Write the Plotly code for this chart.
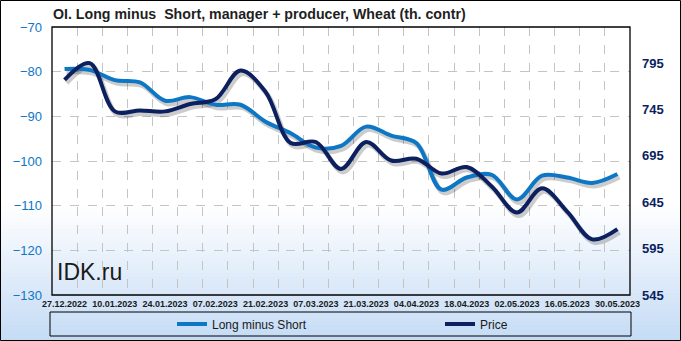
import plotly.graph_objects as go

# ---------------- data ----------------
dates = ["27.12.2022", "03.01.2023", "10.01.2023", "17.01.2023", "24.01.2023",
         "31.01.2023", "07.02.2023", "14.02.2023", "21.02.2023", "28.02.2023",
         "07.03.2023", "14.03.2023", "21.03.2023", "28.03.2023", "04.04.2023",
         "11.04.2023", "18.04.2023", "25.04.2023", "02.05.2023", "09.05.2023",
         "16.05.2023", "23.05.2023", "30.05.2023"]
long_minus_short = [-79.4, -79.6, -81.9, -82.4, -86.5, -85.7, -87.4, -87.4, -91.2,
                    -93.8, -97.0, -96.6, -92.3, -94.3, -96.0, -106.4, -103.7,
                    -103.1, -108.6, -103.3, -103.7, -104.9, -102.9]
price = [777, 795, 743, 744, 743, 751, 756, 787, 764, 709, 710, 681, 710, 690,
         692, 676, 683, 662, 634, 660, 635, 605, 616]
left_range = [-130, -70]
right_range = [545, 834]
title_text = "OI. Long minus  Short, manager + producer, Wheat (th. contr)"

# ---------------- geometry / style ----------------
W, H = 681, 341
ML, MR, MT, MB = 52, 51, 27, 46
PW, PH = W - ML - MR, H - MT - MB
LIGHT = "#0d77c6"
DARK = "#0c1f5e"
SHADOW = "rgba(0,0,0,0.20)"
FONT = "Liberation Sans"

def px_x(p):
    return (p - ML) / PW

def px_y(p):
    return (H - MB - p) / PH

idx = list(range(len(dates)))
xr = [-0.5, len(dates) - 0.5]
ux = PW / (xr[1] - xr[0])
sdx, sdy = 2.0, 3.0
shadow_xr = [xr[0] - sdx / ux, xr[1] - sdx / ux]
ul = PH / (left_range[1] - left_range[0])
ur = PH / (right_range[1] - right_range[0])
shadow_lr = [left_range[0] + sdy / ul, left_range[1] + sdy / ul]
shadow_rr = [right_range[0] + sdy / ur, right_range[1] + sdy / ur]

fig = go.Figure()
# shadows (hidden shifted axes)
fig.add_trace(go.Scatter(x=idx, y=long_minus_short, xaxis="x", yaxis="y",
                         mode="lines", line=dict(color=SHADOW, width=5, shape="spline", smoothing=1),
                         showlegend=False, hoverinfo="skip"))
fig.add_trace(go.Scatter(x=idx, y=price, xaxis="x", yaxis="y2",
                         mode="lines", line=dict(color=SHADOW, width=5, shape="spline", smoothing=1),
                         showlegend=False, hoverinfo="skip"))
# real lines
fig.add_trace(go.Scatter(x=idx, y=long_minus_short, xaxis="x2", yaxis="y3",
                         name="Long minus Short", mode="lines",
                         line=dict(color=LIGHT, width=4, shape="spline", smoothing=1)))
fig.add_trace(go.Scatter(x=idx, y=price, xaxis="x2", yaxis="y4",
                         name="Price", mode="lines",
                         line=dict(color=DARK, width=4, shape="spline", smoothing=1)))

# gradient background bands
shapes = []
g0, g1 = 205, H
steps = 34
top_c = (255, 255, 255)
bot_c = (196, 219, 245)
for k in range(steps):
    a = g0 + (g1 - g0) * k / steps
    b = g0 + (g1 - g0) * (k + 1) / steps
    t = (k + 0.5) / steps
    c = tuple(int(round(top_c[j] + (bot_c[j] - top_c[j]) * t)) for j in range(3))
    shapes.append(dict(type="rect", xref="paper", yref="paper", layer="below",
                       x0=px_x(0), x1=px_x(W), y0=px_y(b + 0.5), y1=px_y(a),
                       line=dict(width=0), fillcolor="rgb(%d,%d,%d)" % c))
# plot border
shapes.append(dict(type="rect", xref="paper", yref="paper", x0=0, x1=1, y0=0, y1=1,
                   line=dict(color="black", width=1.3), layer="above"))
# legend box
shapes.append(dict(type="rect", xref="paper", yref="paper",
                   x0=px_x(50), x1=px_x(631), y0=px_y(336), y1=px_y(312),
                   line=dict(color="black", width=1), layer="above"))
# outer border
shapes.append(dict(type="rect", xref="paper", yref="paper",
                   x0=px_x(0.5), x1=px_x(W - 0.5), y0=px_y(H - 0.5), y1=px_y(0.5),
                   line=dict(color="black", width=1), layer="above"))

hidden = dict(visible=False, showgrid=False, zeroline=False, fixedrange=True)

fig.update_layout(
    width=W, height=H,
    margin=dict(l=ML, r=MR, t=MT, b=MB, autoexpand=False),
    paper_bgcolor="white", plot_bgcolor="rgba(0,0,0,0)",
    font=dict(family=FONT, color="#1a1a1a"),
    title=dict(text="<b>" + title_text + "</b>", x=53 / W, xanchor="left", xref="container",
               y=1 - 14 / H, yanchor="middle", yref="container",
               font=dict(family=FONT, size=14.2, color="#1f1f1f")),
    xaxis=dict(range=shadow_xr, **hidden),
    yaxis=dict(range=shadow_lr, **hidden),
    yaxis2=dict(range=shadow_rr, overlaying="y", **hidden),
    xaxis2=dict(range=xr, overlaying="x", anchor="y3", side="bottom",
                tickmode="array", tickvals=idx[::2], ticktext=dates[::2],
                showgrid=False, zeroline=False, ticks="", showline=False,
                tickfont=dict(family=FONT, size=9, color="#1a1a1a", weight="bold"),
                ticklabelstandoff=2,
                minor=dict(tick0=0.5, dtick=1, showgrid=True, gridcolor="#c4c4c4",
                           griddash="dash", gridwidth=1, ticks="")),
    yaxis3=dict(range=left_range, overlaying="y", anchor="x2", side="left",
                tickmode="linear", tick0=-130, dtick=10,
                showgrid=True, gridcolor="#c4c4c4", griddash="dash", gridwidth=1,
                zeroline=False, ticks="", showline=False, ticklabelstandoff=9,
                tickfont=dict(family=FONT, size=13, color=LIGHT)),
    yaxis4=dict(range=right_range, overlaying="y", anchor="x2", side="right",
                tickmode="linear", tick0=545, dtick=50,
                showgrid=False, zeroline=False, ticks="", showline=False, ticklabelstandoff=11,
                tickfont=dict(family=FONT, size=13, color=DARK, weight="bold")),
    legend=dict(orientation="h", x=px_x(172), xanchor="left", y=px_y(324), yanchor="middle",
                bgcolor="rgba(0,0,0,0)", borderwidth=0, entrywidth=223, entrywidthmode="pixels",
                font=dict(family=FONT, size=12, color="#1a1a1a"), itemwidth=30,
                traceorder="normal"),
    shapes=shapes,
    annotations=[dict(text="IDK.ru", xref="paper", yref="paper", x=px_x(55), y=px_y(272),
                      xanchor="left", yanchor="middle", showarrow=False,
                      font=dict(family=FONT, size=23, color="#1a1a1a"))],
    showlegend=True,
)

fig.write_html("out.html")
